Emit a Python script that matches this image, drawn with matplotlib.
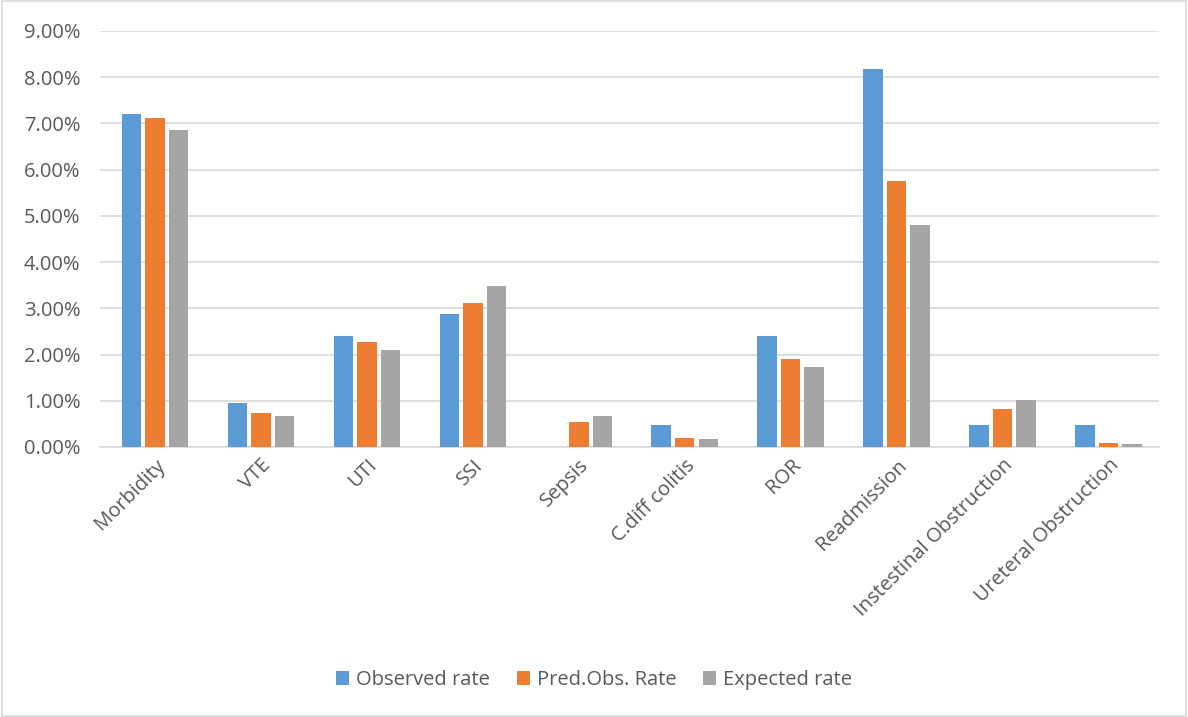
import matplotlib
import matplotlib.pyplot as plt
import numpy as np
from matplotlib.ticker import FuncFormatter
matplotlib.use('Agg')

categories = ["Morbidity", "VTE", "UTI", "SSI", "Sepsis", "C.diff colitis",
              "ROR", "Readmission", "Instestinal Obstruction", "Ureteral Obstruction"]
observed = [7.21, 0.95, 2.40, 2.88, 0.0, 0.47, 2.40, 8.17, 0.47, 0.47]
pred_obs = [7.11, 0.73, 2.27, 3.12, 0.53, 0.20, 1.91, 5.75, 0.82, 0.09]
expected = [6.85, 0.66, 2.09, 3.48, 0.66, 0.17, 1.72, 4.80, 1.02, 0.07]
series_names = ["Observed rate", "Pred.Obs. Rate", "Expected rate"]
colors = ["#5B9BD5", "#ED7D31", "#A5A5A5"]

plt.rcParams['font.family'] = ['Open Sans', 'DejaVu Sans']
text_color = "#595959"
fs = 14.5

fig = plt.figure(figsize=(11.88, 7.17), dpi=100)
ax = fig.add_axes([0.084, 0.3766, 0.892, 0.5802])

x = np.arange(len(categories))
pitch = 0.222
width = 0.184
for i, (vals, name, col) in enumerate(zip([observed, pred_obs, expected], series_names, colors)):
    ax.bar(x + (i - 1) * pitch + 0.02, vals, width, color=col, label=name, zorder=3)

ax.set_xlim(-0.5, len(categories) - 0.5)
ax.set_ylim(0, 9)
ax.set_yticks(np.arange(0, 9.01, 1))
ax.yaxis.set_major_formatter(FuncFormatter(lambda v, p: "%.2f%%" % v))
ax.grid(axis='y', color="#D9D9D9", linewidth=1.2, zorder=0)
for s in ['top', 'right', 'left']:
    ax.spines[s].set_visible(False)
ax.spines['bottom'].set_color("#D9D9D9")
ax.spines['bottom'].set_linewidth(1.2)
ax.tick_params(axis='both', length=0, colors=text_color, labelsize=fs)
ax.tick_params(axis='y', pad=14)
ax.tick_params(axis='x', pad=6)

ax.set_xticks(x + 0.02)
ax.set_xticklabels(categories, rotation=45, ha='right', rotation_mode='anchor')

leg = ax.legend(loc='center', ncol=3, frameon=False,
                fontsize=fs, handlelength=0.65, handleheight=0.65,
                handletextpad=0.35, columnspacing=1.3)
leg.set_bbox_to_anchor((0.5, 1 - 680 / 717), transform=fig.transFigure)
for t in leg.get_texts():
    t.set_color(text_color)

fig.patches.append(plt.Rectangle((0.002, 0.002), 0.996, 0.996, transform=fig.transFigure,
                                 fill=False, edgecolor="#D9D9D9", linewidth=1.2))

plt.savefig("out.png")
